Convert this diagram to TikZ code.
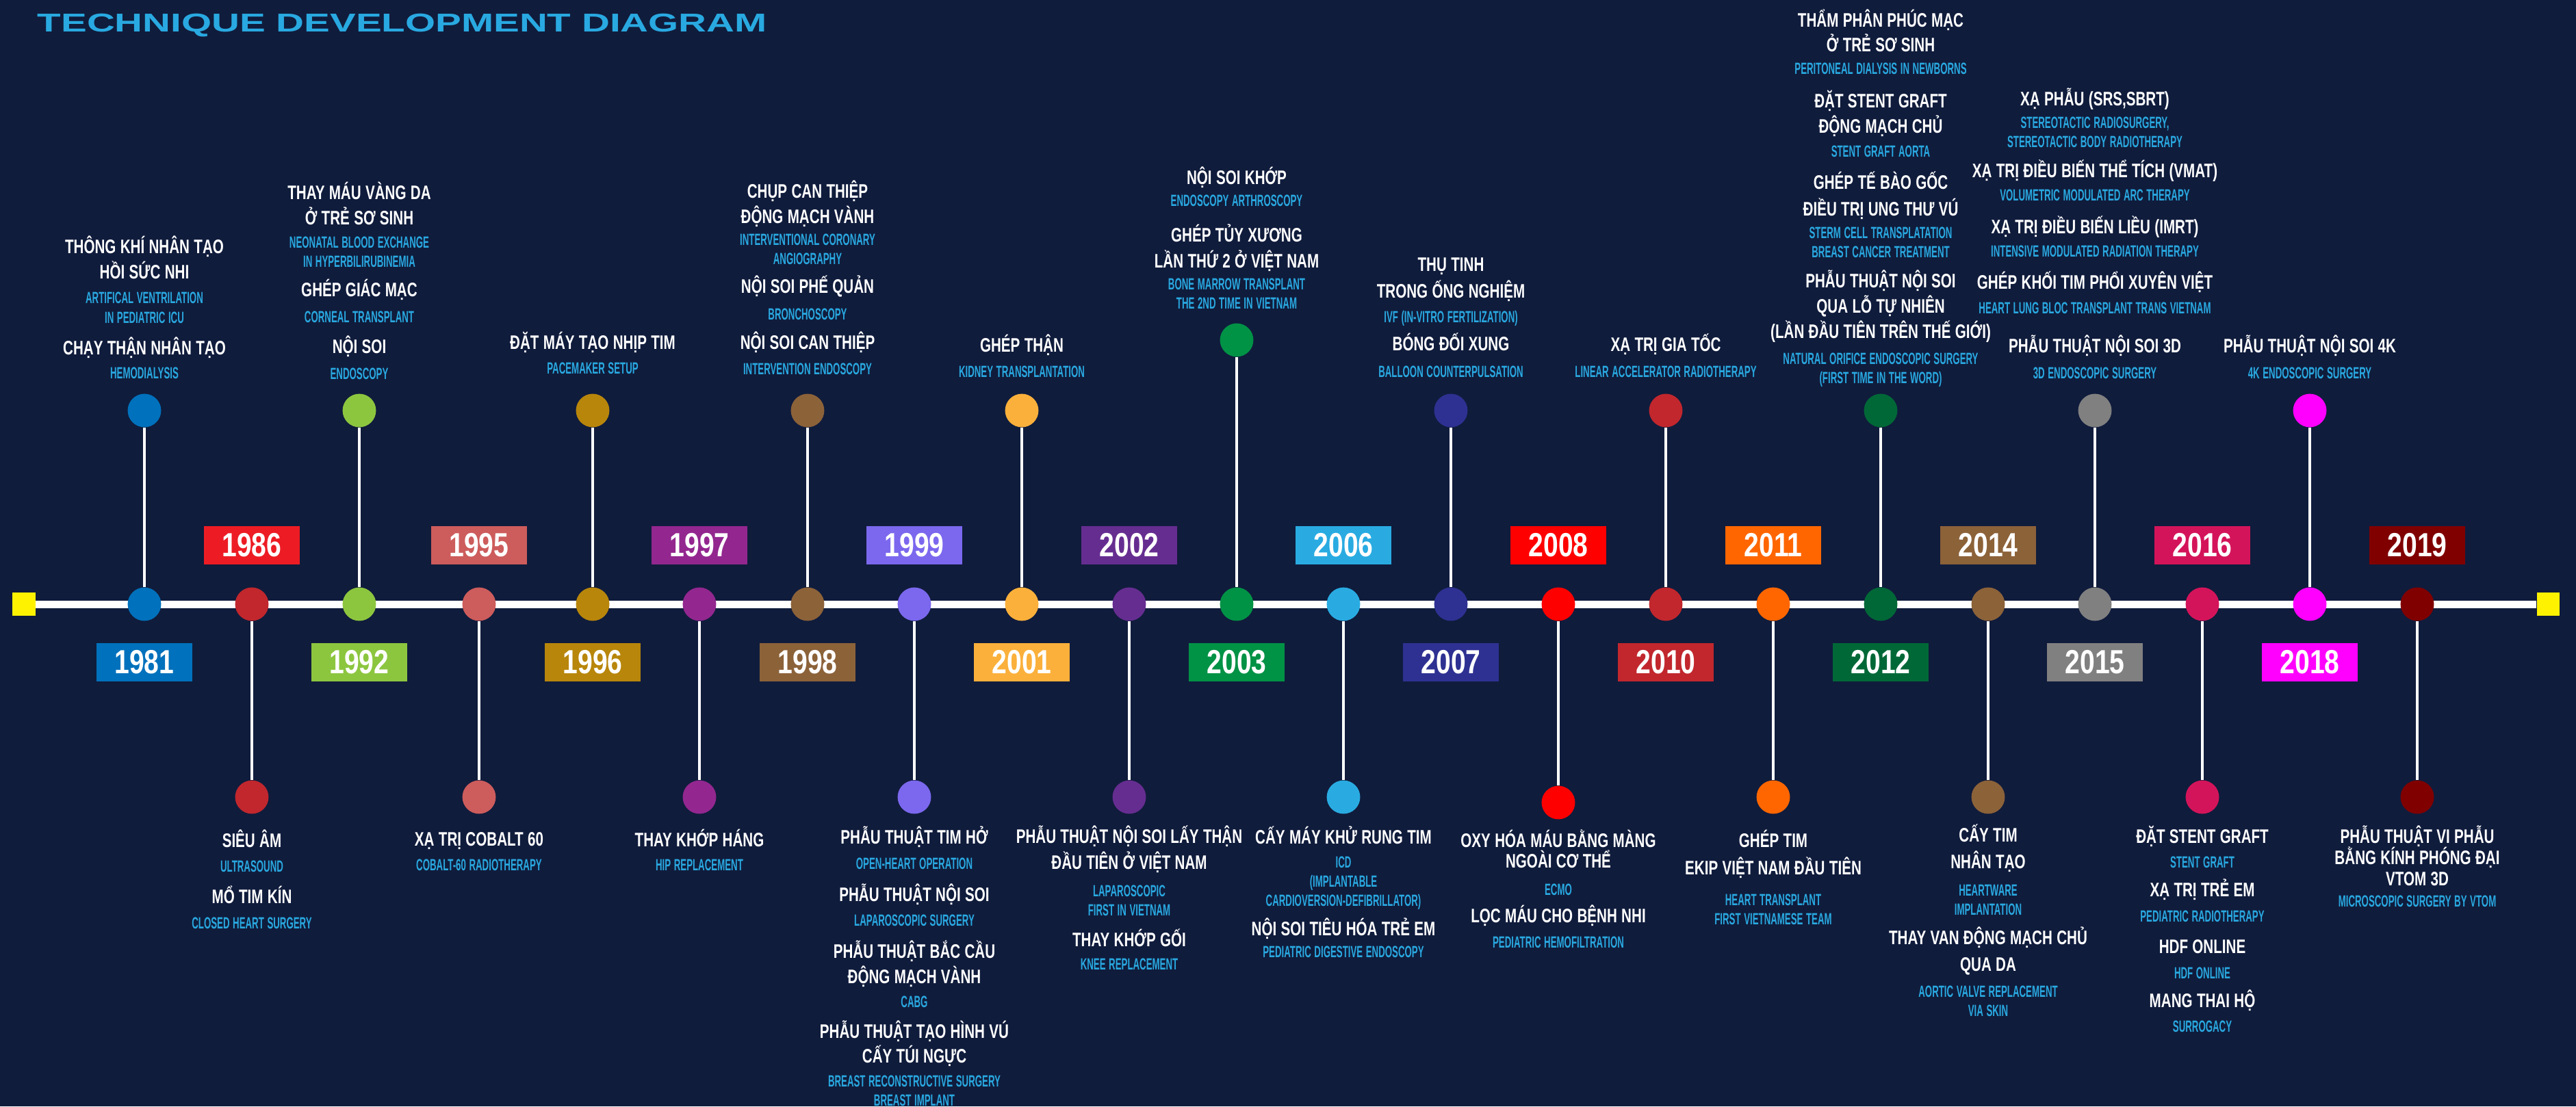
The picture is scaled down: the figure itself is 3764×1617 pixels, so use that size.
\documentclass[tikz,border=0pt]{standalone}
\usepackage{fontspec}
\setmainfont{Liberation Sans}
\newfontfamily\headfamily{Liberation Sans}[FakeStretch=0.72]
\newfontfamily\subfamily{Liberation Sans}[FakeStretch=0.56]
\newfontfamily\yearfamily{Liberation Sans}[FakeStretch=0.8]
\newfontfamily\titlefamily{Liberation Sans}[FakeStretch=1.5]

% one pixel of the picture
\newdimen\pxu \pxu=0.28453pt

\newcommand\hd{\headfamily\bfseries\fontsize{8.14pt}{7.97pt}\selectfont\spaceskip=1.8pt\relax\color{white}}
\newcommand\subtext{\subfamily\bfseries\fontsize{6.74pt}{7.97pt}\selectfont\spaceskip=1.3pt\relax\lineskiplimit=-\maxdimen}
\newcommand\yearfont{\yearfamily\bfseries\fontsize{13.9pt}{14pt}\selectfont}
\newcommand\titlefont{\titlefamily\bfseries\fontsize{10.73pt}{12pt}\selectfont}

\definecolor{bgnavy}{HTML}{101C3C}
\definecolor{skytext}{HTML}{29A9E1}
\definecolor{y1981}{HTML}{0071BC}
\definecolor{y1986}{HTML}{ED1C24}
\definecolor{y1986d}{HTML}{C1272D}
\definecolor{y1992}{HTML}{8CC63F}
\definecolor{y1995}{HTML}{CD5C5C}
\definecolor{y1996}{HTML}{B8860B}
\definecolor{y1997}{HTML}{93278F}
\definecolor{y1998}{HTML}{8C6239}
\definecolor{y1999}{HTML}{7B68EE}
\definecolor{y2001}{HTML}{FBB03B}
\definecolor{y2002}{HTML}{662D91}
\definecolor{y2003}{HTML}{009245}
\definecolor{y2006}{HTML}{29ABE2}
\definecolor{y2007}{HTML}{2E3192}
\definecolor{y2008}{HTML}{FF0000}
\definecolor{y2010}{HTML}{C1272D}
\definecolor{y2011}{HTML}{FF6600}
\definecolor{y2012}{HTML}{006837}
\definecolor{y2014}{HTML}{8C6239}
\definecolor{y2015}{HTML}{808080}
\definecolor{y2016}{HTML}{D4145A}
\definecolor{y2018}{HTML}{FF00FF}
\definecolor{y2019}{HTML}{800000}

\begin{document}
\begin{tikzpicture}[
        x=0.01cm, y=-0.01cm,
        dot/.style={circle, fill=#1, minimum size=13.9pt, inner sep=0pt},
        yearbox/.style={
            fill=#1,
            minimum width=39.8pt,
            minimum height=15.9pt,
            inner sep=0pt,
            text=white,
            font=\yearfont
        },
        stem/.style={white, line width=1.14pt},
        axis/.style={white, line width=3.13pt},
        endmark/.style={fill=yellow, minimum size=9.4pt, inner sep=0pt},
        uptext/.style={
            font=\subtext,
            text=skytext,
            align=flush center,
            inner sep=0pt,
            text width=#1,
            anchor=south
        },
        downtext/.style={
            font=\subtext,
            text=skytext,
            align=flush center,
            inner sep=0pt,
            text width=#1,
            anchor=base
        },
        title/.style={font=\titlefont, text=skytext, inner sep=0pt, anchor=base west}
    ]
    % background and title
    \fill[bgnavy] (0,0) rectangle (3764,1617);
    \node[title] (title) at (54,46) {TECHNIQUE DEVELOPMENT DIAGRAM};
    % time axis
    \node[endmark] (lend) at (35,883) {};
    \node[endmark] (rend) at (3723,883) {};
    \draw[axis] (lend) -- (rend);

    % 1981
    \node[dot=y1981] (d1981) at (211,883) {};
    \node[dot=y1981] (e1981) at (211,600) {};
    \draw[stem] (d1981) -- (e1981);
    \node[yearbox=y1981] (b1981) at (211,968) {1981};
    \node[uptext=74pt] (t1981) at (211,554)
        {{\hd THÔNG KHÍ NHÂN TẠO\\[9\pxu] HỒI SỨC NHI}\\[8\pxu]
         ARTIFICAL VENTRILATION\\ IN PEDIATRIC ICU\\[18\pxu]
         {\hd CHẠY THẬN NHÂN TẠO}\\[7\pxu]
         HEMODIALYSIS};
    % 1986
    \node[dot=y1986d] (d1986) at (368,883) {};
    \node[dot=y1986d] (e1986) at (368,1165) {};
    \draw[stem] (d1986) -- (e1986);
    \node[yearbox=y1986] (b1986) at (368,797) {1986};
    \node[downtext=57pt] (t1986) at (368,1238)
        {{\hd SIÊU ÂM}\\[8\pxu]
         ULTRASOUND\\[18\pxu]
         {\hd MỔ TIM KÍN}\\[9\pxu]
         CLOSED HEART SURGERY};
    % 1992
    \node[dot=y1992] (d1992) at (525,883) {};
    \node[dot=y1992] (e1992) at (525,600) {};
    \draw[stem] (d1992) -- (e1992);
    \node[yearbox=y1992] (b1992) at (525,968) {1992};
    \node[uptext=67pt] (t1992) at (525,555)
        {{\hd THAY MÁU VÀNG DA\\[9\pxu] Ở TRẺ SƠ SINH}\\[6\pxu]
         NEONATAL BLOOD EXCHANGE\\ IN HYPERBILIRUBINEMIA\\[15\pxu]
         {\hd GHÉP GIÁC MẠC}\\[9\pxu]
         CORNEAL TRANSPLANT\\[17\pxu]
         {\hd NỘI SOI}\\[10\pxu]
         ENDOSCOPY};
    % 1995
    \node[dot=y1995] (d1995) at (700,883) {};
    \node[dot=y1995] (e1995) at (700,1165) {};
    \draw[stem] (d1995) -- (e1995);
    \node[yearbox=y1995] (b1995) at (700,797) {1995};
    \node[downtext=61pt] (t1995) at (700,1236)
        {{\hd XẠ TRỊ COBALT 60}\\[8\pxu]
         COBALT-60 RADIOTHERAPY};
    % 1996
    \node[dot=y1996] (d1996) at (866,883) {};
    \node[dot=y1996] (e1996) at (866,600) {};
    \draw[stem] (d1996) -- (e1996);
    \node[yearbox=y1996] (b1996) at (866,968) {1996};
    \node[uptext=78pt] (t1996) at (866,547)
        {{\hd ĐẶT MÁY TẠO NHỊP TIM}\\[8\pxu]
         PACEMAKER SETUP};
    % 1997
    \node[dot=y1997] (d1997) at (1022,883) {};
    \node[dot=y1997] (e1997) at (1022,1165) {};
    \draw[stem] (d1997) -- (e1997);
    \node[yearbox=y1997] (b1997) at (1022,797) {1997};
    \node[downtext=70pt] (t1997) at (1022,1237)
        {{\hd THAY KHỚP HÁNG}\\[7\pxu]
         HIP REPLACEMENT};
    % 1998
    \node[dot=y1998] (d1998) at (1180,883) {};
    \node[dot=y1998] (e1998) at (1180,600) {};
    \draw[stem] (d1998) -- (e1998);
    \node[yearbox=y1998] (b1998) at (1180,968) {1998};
    \node[uptext=67pt] (t1998) at (1180,548)
        {{\hd CHỤP CAN THIỆP\\[9\pxu] ĐỘNG MẠCH VÀNH}\\[4\pxu]
         INTERVENTIONAL CORONARY\\ ANGIOGRAPHY\\[14\pxu]
         {\hd NỘI SOI PHẾ QUẢN}\\[10\pxu]
         BRONCHOSCOPY\\[15\pxu]
         {\hd NỘI SOI CAN THIỆP}\\[9\pxu]
         INTERVENTION ENDOSCOPY};
    % 1999
    \node[dot=y1999] (d1999) at (1336,883) {};
    \node[dot=y1999] (e1999) at (1336,1165) {};
    \draw[stem] (d1999) -- (e1999);
    \node[yearbox=y1999] (b1999) at (1336,797) {1999};
    \node[downtext=87pt] (t1999) at (1336,1233)
        {{\hd PHẪU THUẬT TIM HỞ}\\[9\pxu]
         OPEN-HEART OPERATION\\[19\pxu]
         {\hd PHẪU THUẬT NỘI SOI}\\[8\pxu]
         LAPAROSCOPIC SURGERY\\[19\pxu]
         {\hd PHẪU THUẬT BẮC CẦU\\[9\pxu] ĐỘNG MẠCH VÀNH}\\[7\pxu]
         CABG\\[17\pxu]
         {\hd PHẪU THUẬT TẠO HÌNH VÚ\\[8\pxu] CẤY TÚI NGỰC}\\[7\pxu]
         BREAST RECONSTRUCTIVE SURGERY\\ BREAST IMPLANT};
    % 2001
    \node[dot=y2001] (d2001) at (1493,883) {};
    \node[dot=y2001] (e2001) at (1493,600) {};
    \draw[stem] (d2001) -- (e2001);
    \node[yearbox=y2001] (b2001) at (1493,968) {2001};
    \node[uptext=61pt] (t2001) at (1493,552)
        {{\hd GHÉP THẬN}\\[9\pxu]
         KIDNEY TRANSPLANTATION};
    % 2002
    \node[dot=y2002] (d2002) at (1650,883) {};
    \node[dot=y2002] (e2002) at (1650,1165) {};
    \draw[stem] (d2002) -- (e2002);
    \node[yearbox=y2002] (b2002) at (1650,797) {2002};
    \node[downtext=102pt] (t2002) at (1650,1232)
        {{\hd PHẪU THUẬT NỘI SOI LẤY THẬN\\[10\pxu] ĐẦU TIÊN Ở VIỆT NAM}\\[12\pxu]
         LAPAROSCOPIC\\ FIRST IN VIETNAM\\[17\pxu]
         {\hd THAY KHỚP GỐI}\\[6\pxu]
         KNEE REPLACEMENT};
    % 2003
    \node[dot=y2003] (d2003) at (1807,883) {};
    \node[dot=y2003] (e2003) at (1807,497) {};
    \draw[stem] (d2003) -- (e2003);
    \node[yearbox=y2003] (b2003) at (1807,968) {2003};
    \node[uptext=77pt] (t2003) at (1807,452)
        {{\hd NỘI SOI KHỚP}\\[4\pxu]
         ENDOSCOPY ARTHROSCOPY\\[24\pxu]
         {\hd GHÉP TỦY XƯƠNG\\[10\pxu] LẦN THỨ 2 Ở VIỆT NAM}\\[4\pxu]
         BONE MARROW TRANSPLANT\\ THE 2ND TIME IN VIETNAM};
    % 2006
    \node[dot=y2006] (d2006) at (1963,883) {};
    \node[dot=y2006] (e2006) at (1963,1165) {};
    \draw[stem] (d2006) -- (e2006);
    \node[yearbox=y2006] (b2006) at (1963,797) {2006};
    \node[downtext=83pt] (t2006) at (1963,1233)
        {{\hd CẤY MÁY KHỬ RUNG TIM}\\[7\pxu]
         ICD\\ (IMPLANTABLE\\ CARDIOVERSION-DEFIBRILLATOR)\\[15\pxu]
         {\hd NỘI SOI TIÊU HÓA TRẺ EM}\\[4\pxu]
         PEDIATRIC DIGESTIVE ENDOSCOPY};
    % 2007
    \node[dot=y2007] (d2007) at (2120,883) {};
    \node[dot=y2007] (e2007) at (2120,600) {};
    \draw[stem] (d2007) -- (e2007);
    \node[yearbox=y2007] (b2007) at (2120,968) {2007};
    \node[uptext=70pt] (t2007) at (2120,552)
        {{\hd THỤ TINH\\[11\pxu] TRONG ỐNG NGHIỆM}\\[7\pxu]
         IVF (IN-VITRO FERTILIZATION)\\[13\pxu]
         {\hd BÓNG ĐỐI XUNG}\\[11\pxu]
         BALLOON COUNTERPULSATION};
    % 2008
    \node[dot=y2008] (d2008) at (2277,883) {};
    \node[dot=y2008] (e2008) at (2277,1173) {};
    \draw[stem] (d2008) -- (e2008);
    \node[yearbox=y2008] (b2008) at (2277,797) {2008};
    \node[downtext=90pt] (t2008) at (2277,1238)
        {{\hd OXY HÓA MÁU BẰNG MÀNG\\[2\pxu] NGOÀI CƠ THỂ}\\[12\pxu]
         ECMO\\[12\pxu]
         {\hd LỌC MÁU CHO BỆNH NHI}\\[9\pxu]
         PEDIATRIC HEMOFILTRATION};
    % 2010
    \node[dot=y2010] (d2010) at (2434,883) {};
    \node[dot=y2010] (e2010) at (2434,600) {};
    \draw[stem] (d2010) -- (e2010);
    \node[yearbox=y2010] (b2010) at (2434,968) {2010};
    \node[uptext=84pt] (t2010) at (2434,552)
        {{\hd XẠ TRỊ GIA TỐC}\\[10\pxu]
         LINEAR ACCELERATOR RADIOTHERAPY};
    % 2011
    \node[dot=y2011] (d2011) at (2591,883) {};
    \node[dot=y2011] (e2011) at (2591,1165) {};
    \draw[stem] (d2011) -- (e2011);
    \node[yearbox=y2011] (b2011) at (2591,797) {2011};
    \node[downtext=84pt] (t2011) at (2591,1238)
        {{\hd GHÉP TIM\\[12\pxu] EKIP VIỆT NAM ĐẦU TIÊN}\\[17\pxu]
         HEART TRANSPLANT\\ FIRST VIETNAMESE TEAM};
    % 2012
    \node[dot=y2012] (d2012) at (2748,883) {};
    \node[dot=y2012] (e2012) at (2748,600) {};
    \draw[stem] (d2012) -- (e2012);
    \node[yearbox=y2012] (b2012) at (2748,968) {2012};
    \node[uptext=101pt] (t2012) at (2748,566)
        {{\hd THẨM PHÂN PHÚC MẠC\\[8\pxu] Ở TRẺ SƠ SINH}\\[5\pxu]
         PERITONEAL DIALYSIS IN NEWBORNS\\[20\pxu]
         {\hd ĐẶT STENT GRAFT\\[9\pxu] ĐỘNG MẠCH CHỦ}\\[7\pxu]
         STENT GRAFT AORTA\\[19\pxu]
         {\hd GHÉP TẾ BÀO GỐC\\[11\pxu] ĐIỀU TRỊ UNG THƯ VÚ}\\[5\pxu]
         STERM CELL TRANSPLATATION\\ BREAST CANCER TREATMENT\\[16\pxu]
         {\hd PHẪU THUẬT NỘI SOI\\[9\pxu] QUA LỖ TỰ NHIÊN\\[9\pxu] (LẦN ĐẦU TIÊN TRÊN THẾ GIỚI)}\\[10\pxu]
         NATURAL ORIFICE ENDOSCOPIC SURGERY\\ (FIRST TIME IN THE WORD)};
    % 2014
    \node[dot=y2014] (d2014) at (2905,883) {};
    \node[dot=y2014] (e2014) at (2905,1165) {};
    \draw[stem] (d2014) -- (e2014);
    \node[yearbox=y2014] (b2014) at (2905,797) {2014};
    \node[downtext=91pt] (t2014) at (2905,1230)
        {{\hd CẤY TIM\\[11\pxu] NHÂN TẠO}\\[12\pxu]
         HEARTWARE\\ IMPLANTATION\\[15\pxu]
         {\hd THAY VAN ĐỘNG MẠCH CHỦ\\[11\pxu] QUA DA}\\[10\pxu]
         AORTIC VALVE REPLACEMENT\\ VIA SKIN};
    % 2015
    \node[dot=y2015] (d2015) at (3061,883) {};
    \node[dot=y2015] (e2015) at (3061,600) {};
    \draw[stem] (d2015) -- (e2015);
    \node[yearbox=y2015] (b2015) at (3061,968) {2015};
    \node[uptext=114pt] (t2015) at (3061,554)
        {{\hd XẠ PHẪU (SRS,SBRT)}\\[5\pxu]
         STEREOTACTIC RADIOSURGERY,\\ STEREOTACTIC BODY RADIOTHERAPY\\[16\pxu]
         {\hd XẠ TRỊ ĐIỀU BIẾN THỂ TÍCH (VMAT)}\\[6\pxu]
         VOLUMETRIC MODULATED ARC THERAPY\\[20\pxu]
         {\hd XẠ TRỊ ĐIỀU BIẾN LIỀU (IMRT)}\\[6\pxu]
         INTENSIVE MODULATED RADIATION THERAPY\\[19\pxu]
         {\hd GHÉP KHỐI TIM PHỔI XUYÊN VIỆT}\\[8\pxu]
         HEART LUNG BLOC TRANSPLANT TRANS VIETNAM\\[28\pxu]
         {\hd PHẪU THUẬT NỘI SOI 3D}\\[10\pxu]
         3D ENDOSCOPIC SURGERY};
    % 2016
    \node[dot=y2016] (d2016) at (3218,883) {};
    \node[dot=y2016] (e2016) at (3218,1165) {};
    \draw[stem] (d2016) -- (e2016);
    \node[yearbox=y2016] (b2016) at (3218,797) {2016};
    \node[downtext=61pt] (t2016) at (3218,1232)
        {{\hd ĐẶT STENT GRAFT}\\[8\pxu]
         STENT GRAFT\\[14\pxu]
         {\hd XẠ TRỊ TRẺ EM}\\[9\pxu]
         PEDIATRIC RADIOTHERAPY\\[18\pxu]
         {\hd HDF ONLINE}\\[9\pxu]
         HDF ONLINE\\[14\pxu]
         {\hd MANG THAI HỘ}\\[8\pxu]
         SURROGACY};
    % 2018
    \node[dot=y2018] (d2018) at (3375,883) {};
    \node[dot=y2018] (e2018) at (3375,600) {};
    \draw[stem] (d2018) -- (e2018);
    \node[yearbox=y2018] (b2018) at (3375,968) {2018};
    \node[uptext=81pt] (t2018) at (3375,554)
        {{\hd PHẪU THUẬT NỘI SOI 4K}\\[10\pxu]
         4K ENDOSCOPIC SURGERY};
    % 2019
    \node[dot=y2019] (d2019) at (3532,883) {};
    \node[dot=y2019] (e2019) at (3532,1165) {};
    \draw[stem] (d2019) -- (e2019);
    \node[yearbox=y2019] (b2019) at (3532,797) {2019};
    \node[downtext=78pt] (t2019) at (3532,1232)
        {{\hd PHẪU THUẬT VI PHẪU\\[3\pxu] BẰNG KÍNH PHÓNG ĐẠI\\[3\pxu] VTOM 3D}\\[3\pxu]
         MICROSCOPIC SURGERY BY VTOM};
\end{tikzpicture}
\end{document}
